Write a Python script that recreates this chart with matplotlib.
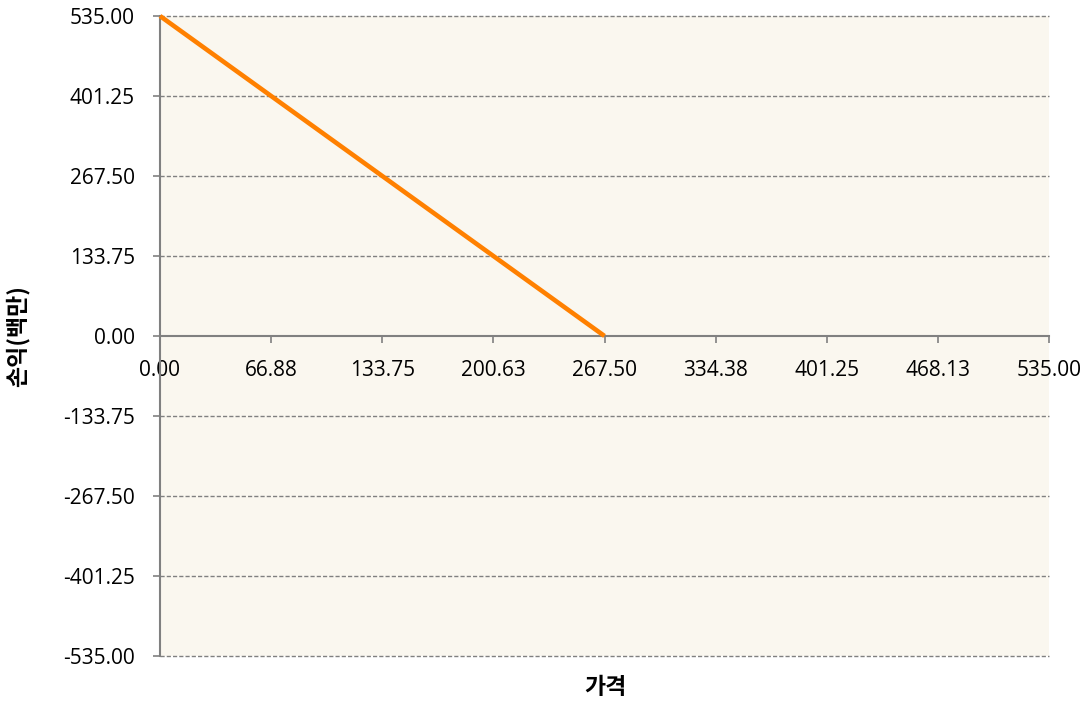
"""
Profit/loss vs price line chart (Excel-style).
"""

import matplotlib.pyplot as plt
import numpy as np

plt.rcParams['font.family'] = ['Noto Sans CJK KR', 'DejaVu Sans']

# Data
price = [0.0, 267.5]
profit = [535.0, 0.0]

x_ticks = [0.00, 66.88, 133.75, 200.63, 267.50, 334.38, 401.25, 468.13, 535.00]
y_ticks = [-535.00, -401.25, -267.50, -133.75, 0.00, 133.75, 267.50, 401.25, 535.00]

fig = plt.figure(figsize=(10.9, 7.04), dpi=100)
ax = fig.add_axes([160 / 1090, 1 - 656 / 704, 889 / 1090, 640 / 704])
ax.set_facecolor('#faf7ef')

ax.plot(price, profit, color='#ff8000', linewidth=3.3, solid_capstyle='butt',
        zorder=5, clip_on=False)

ax.set_xlim(0, 535)
ax.set_ylim(-535, 535)
ax.set_xticks(x_ticks)
ax.set_yticks(y_ticks)
ax.set_xticklabels([f'{v:.2f}' for v in x_ticks])
ax.set_yticklabels([f'{v:.2f}' for v in y_ticks])

# grid lines
for v in y_ticks:
    if v != 0:
        ax.axhline(v, color='#808080', linestyle=(0, (3, 1.5)), linewidth=1.0,
                   zorder=1, clip_on=False)

# spines: y axis on left, x axis at zero
for s in ['top', 'right']:
    ax.spines[s].set_visible(False)
ax.spines['left'].set_color('#808080')
ax.spines['left'].set_linewidth(1.5)
ax.spines['bottom'].set_position(('data', 0))
ax.spines['bottom'].set_color('#808080')
ax.spines['bottom'].set_linewidth(1.5)

ax.tick_params(axis='y', direction='out', length=5, width=1.2, color='#808080',
               labelsize=15, pad=13)
ax.tick_params(axis='x', direction='out', length=5, width=1.2, color='#808080',
               labelsize=15, pad=12)
for lab in ax.get_xticklabels() + ax.get_yticklabels():
    lab.set_family(['Open Sans', 'DejaVu Sans'])

fig.text(18 / 1090, 1 - 336 / 704, '손익(백만)', rotation=90, ha='center', va='center',
         fontsize=16.5, fontweight='bold')
fig.text(605 / 1090, 1 - 688 / 704, '가격', ha='center', va='center',
         fontsize=16.5, fontweight='bold')

fig.savefig('out.png', dpi=100)
plt.close()
